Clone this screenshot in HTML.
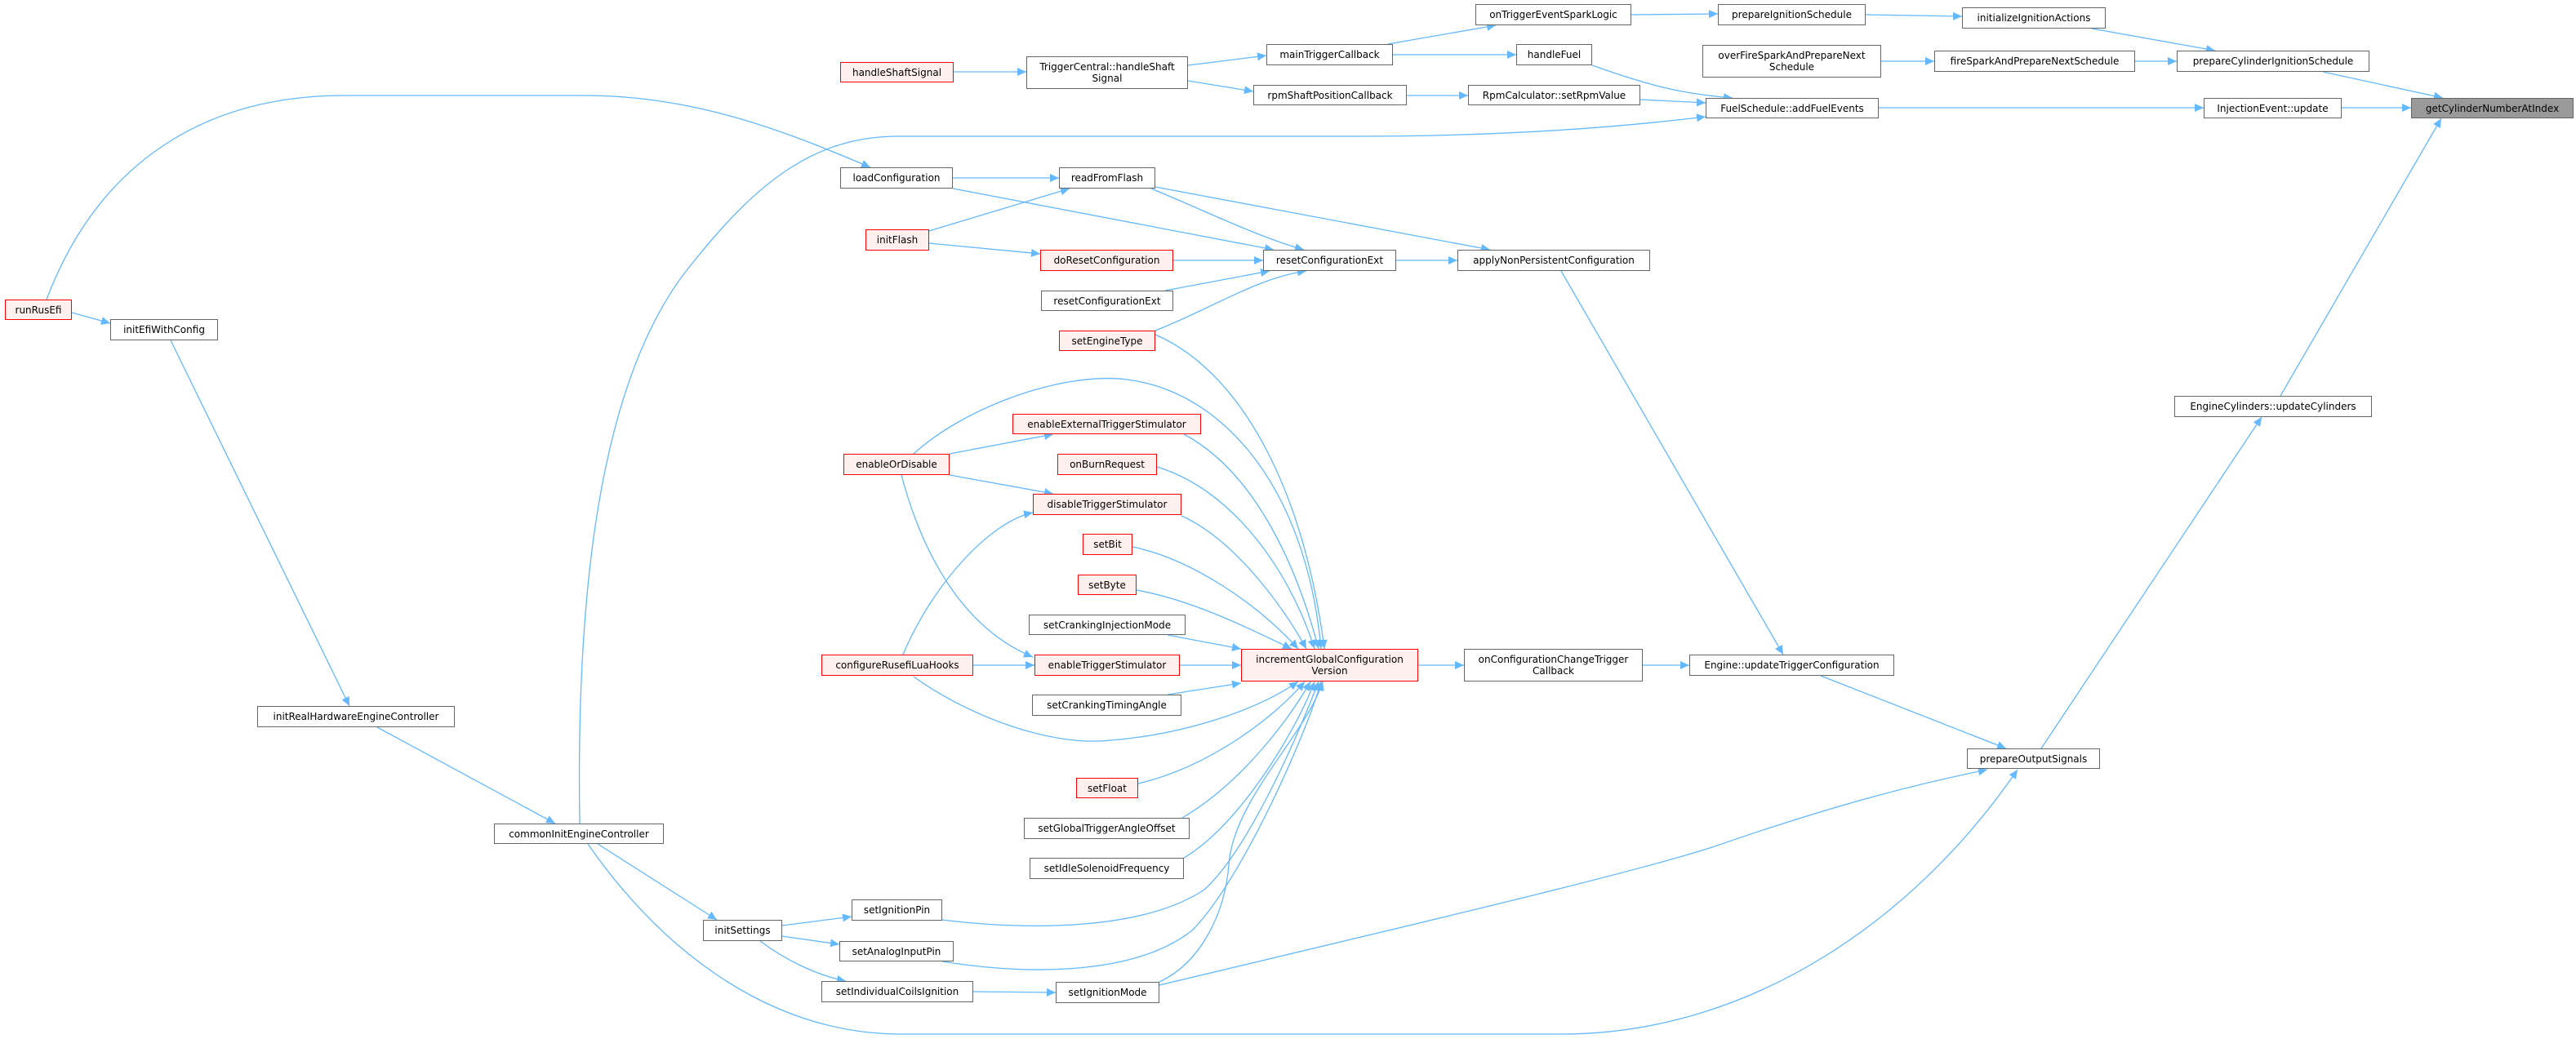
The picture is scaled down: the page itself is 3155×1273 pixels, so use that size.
<!DOCTYPE html>
<html><head><meta charset="utf-8">
<style>
html,body{margin:0;padding:0;background:#fff;}
body{width:3155px;height:1273px;position:relative;overflow:hidden;font-family:"DejaVu Sans","Liberation Sans",sans-serif;font-size:12px;color:#000;}
.n{position:absolute;box-sizing:border-box;border:1px solid #666;background:#fff;display:flex;align-items:center;justify-content:center;text-align:center;line-height:14px;white-space:nowrap;}
.r{border-color:#f00;background:#fff0f0;}
.g{background:#999;border-color:#666;}
svg{position:absolute;left:0;top:0;}
</style></head><body>
<svg width="3155" height="1273" viewBox="0 0 3155 1273">
<defs><marker id="a" markerUnits="userSpaceOnUse" markerWidth="12" markerHeight="10" refX="11" refY="5" orient="auto"><path d="M0,0 L11,5 L0,10 z" fill="#63b8ff"/></marker></defs>
<g fill="none" stroke="#63b8ff" stroke-width="1.3" marker-end="url(#a)">
<path d="M1168,88 L1257,88"/>
<path d="M1455,80 L1551,68"/>
<path d="M1455,99 L1535,112"/>
<path d="M1700,54 L1832,31"/>
<path d="M1706,67 L1857,67"/>
<path d="M1723,117 L1798,117"/>
<path d="M1998,18 L2104,17"/>
<path d="M2285,18 L2403,20"/>
<path d="M2562,35 L2713,62"/>
<path d="M2304,75 L2369,75"/>
<path d="M2615,75 L2666,75"/>
<path d="M2845,88 L2992,120"/>
<path d="M1950,80 C2020,105 2060,115 2122,120"/>
<path d="M2009,122 L2089,126"/>
<path d="M710,1009 C705,700 740,450 850,320 C930,220 1000,167 1100,167 L1660,167 C1800,167 1950,160 2089,143"/>
<path d="M2301,132 L2699,132"/>
<path d="M2868,132 L2953,132"/>
<path d="M2793,485 L2990,145"/>
<path d="M2500,917 L2770,511"/>
<path d="M2230,828 L2457,917"/>
<path d="M1912,332 L2184,802"/>
<path d="M2012,815 L2069,815"/>
<path d="M1737,815 L1793,815"/>
<path d="M1420,1207 C1700,1140 2000,1070 2100,1037 C2250,985 2350,960 2434,943"/>
<path d="M720,1034 C800,1150 930,1265 1100,1267 L1912,1267 C2150,1267 2350,1120 2471,943"/>
<path d="M1410,231 C1480,260 1540,290 1597,306"/>
<path d="M1415,229 L1825,306"/>
<path d="M1167,218 L1297,218"/>
<path d="M1167,231 L1560,306"/>
<path d="M1138,283 L1310,231"/>
<path d="M1138,298 L1274,311"/>
<path d="M1437,319 L1547,319"/>
<path d="M1427,356 L1555,332"/>
<path d="M1415,405 C1480,380 1540,340 1600,332"/>
<path d="M1710,319 L1785,319"/>
<path d="M88,383 L135,396"/>
<path d="M57,367 C120,200 250,117 421,117 L716,117 C850,117 960,160 1066,205"/>
<path d="M209,417 L428,865"/>
<path d="M462,891 L680,1009"/>
<path d="M732,1034 L878,1127"/>
<path d="M958,1134 L1043,1123"/>
<path d="M958,1147 L1028,1157"/>
<path d="M931,1153 C960,1175 1000,1195 1036,1202"/>
<path d="M1192,1215 L1293,1216"/>
<path d="M1163,556 L1290,532"/>
<path d="M1163,582 L1290,605"/>
<path d="M1104,582 C1130,680 1180,770 1265,805"/>
<path d="M1119,556 C1180,500 1300,455 1380,465 C1500,480 1600,600 1618,795"/>
<path d="M1106,802 C1140,720 1210,640 1265,628"/>
<path d="M1192,815 L1267,815"/>
<path d="M1119,829 C1190,880 1290,915 1360,907 C1450,900 1540,870 1590,835"/>
<path d="M1415,410 C1530,460 1600,620 1622,795"/>
<path d="M1450,532 C1540,580 1590,700 1615,795"/>
<path d="M1417,572 C1510,600 1580,700 1610,795"/>
<path d="M1447,632 C1510,660 1570,740 1600,795"/>
<path d="M1387,670 C1460,685 1540,740 1590,795"/>
<path d="M1392,723 C1460,735 1530,770 1582,795"/>
<path d="M1430,778 L1520,795"/>
<path d="M1445,815 L1520,815"/>
<path d="M1430,851 L1520,837"/>
<path d="M1394,960 C1480,940 1560,880 1598,835"/>
<path d="M1448,1002 C1520,960 1580,880 1605,835"/>
<path d="M1450,1051 C1520,1010 1590,890 1610,835"/>
<path d="M1154,1127 C1260,1140 1400,1140 1475,1090 C1530,1040 1590,900 1615,835"/>
<path d="M1154,1178 C1260,1195 1390,1195 1460,1140 C1520,1080 1600,900 1618,835"/>
<path d="M1420,1203 C1470,1180 1500,1120 1505,1060 C1510,980 1600,900 1620,835"/>
</g>
</svg>
<div class="n r" style="left:1029px;top:76px;width:139px;height:25px">handleShaftSignal</div>
<div class="n" style="left:1257px;top:69px;width:198px;height:40px">TriggerCentral::handleShaft<br>Signal</div>
<div class="n" style="left:1551px;top:54px;width:155px;height:26px">mainTriggerCallback</div>
<div class="n" style="left:1807px;top:5px;width:191px;height:26px">onTriggerEventSparkLogic</div>
<div class="n" style="left:1857px;top:54px;width:93px;height:26px">handleFuel</div>
<div class="n" style="left:1535px;top:104px;width:188px;height:25px">rpmShaftPositionCallback</div>
<div class="n" style="left:1798px;top:104px;width:211px;height:25px">RpmCalculator::setRpmValue</div>
<div class="n" style="left:1029px;top:205px;width:138px;height:26px">loadConfiguration</div>
<div class="n" style="left:1297px;top:205px;width:118px;height:26px">readFromFlash</div>
<div class="n r" style="left:1060px;top:281px;width:78px;height:26px">initFlash</div>
<div class="n r" style="left:1274px;top:306px;width:163px;height:26px">doResetConfiguration</div>
<div class="n" style="left:1547px;top:306px;width:163px;height:26px">resetConfigurationExt</div>
<div class="n" style="left:1785px;top:306px;width:236px;height:26px">applyNonPersistentConfiguration</div>
<div class="n" style="left:1275px;top:356px;width:162px;height:25px">resetConfigurationExt</div>
<div class="n r" style="left:1297px;top:405px;width:118px;height:25px">setEngineType</div>
<div class="n" style="left:2104px;top:5px;width:181px;height:26px">prepareIgnitionSchedule</div>
<div class="n" style="left:2403px;top:9px;width:176px;height:26px">initializeIgnitionActions</div>
<div class="n" style="left:2085px;top:55px;width:219px;height:40px">overFireSparkAndPrepareNext<br>Schedule</div>
<div class="n" style="left:2369px;top:62px;width:246px;height:26px">fireSparkAndPrepareNextSchedule</div>
<div class="n" style="left:2666px;top:62px;width:236px;height:26px">prepareCylinderIgnitionSchedule</div>
<div class="n" style="left:2089px;top:120px;width:212px;height:25px">FuelSchedule::addFuelEvents</div>
<div class="n" style="left:2699px;top:120px;width:169px;height:25px">InjectionEvent::update</div>
<div class="n g" style="left:2953px;top:120px;width:199px;height:25px">getCylinderNumberAtIndex</div>
<div class="n" style="left:2663px;top:485px;width:242px;height:26px">EngineCylinders::updateCylinders</div>
<div class="n r" style="left:6px;top:367px;width:82px;height:25px">runRusEfi</div>
<div class="n" style="left:135px;top:391px;width:132px;height:26px">initEfiWithConfig</div>
<div class="n" style="left:315px;top:865px;width:242px;height:26px">initRealHardwareEngineController</div>
<div class="n" style="left:605px;top:1009px;width:208px;height:25px">commonInitEngineController</div>
<div class="n" style="left:861px;top:1127px;width:97px;height:26px">initSettings</div>
<div class="n r" style="left:1240px;top:507px;width:231px;height:25px">enableExternalTriggerStimulator</div>
<div class="n r" style="left:1033px;top:556px;width:130px;height:26px">enableOrDisable</div>
<div class="n r" style="left:1295px;top:556px;width:122px;height:26px">onBurnRequest</div>
<div class="n r" style="left:1265px;top:605px;width:182px;height:26px">disableTriggerStimulator</div>
<div class="n r" style="left:1326px;top:654px;width:61px;height:26px">setBit</div>
<div class="n r" style="left:1320px;top:704px;width:72px;height:25px">setByte</div>
<div class="n" style="left:1260px;top:753px;width:192px;height:25px">setCrankingInjectionMode</div>
<div class="n r" style="left:1006px;top:802px;width:186px;height:26px">configureRusefiLuaHooks</div>
<div class="n r" style="left:1267px;top:802px;width:178px;height:26px">enableTriggerStimulator</div>
<div class="n r" style="left:1520px;top:795px;width:217px;height:40px">incrementGlobalConfiguration<br>Version</div>
<div class="n" style="left:1793px;top:795px;width:219px;height:40px">onConfigurationChangeTrigger<br>Callback</div>
<div class="n" style="left:2069px;top:802px;width:251px;height:26px">Engine::updateTriggerConfiguration</div>
<div class="n" style="left:2409px;top:917px;width:163px;height:25px">prepareOutputSignals</div>
<div class="n" style="left:1264px;top:851px;width:183px;height:26px">setCrankingTimingAngle</div>
<div class="n r" style="left:1318px;top:953px;width:76px;height:25px">setFloat</div>
<div class="n" style="left:1254px;top:1002px;width:203px;height:26px">setGlobalTriggerAngleOffset</div>
<div class="n" style="left:1261px;top:1051px;width:189px;height:26px">setIdleSolenoidFrequency</div>
<div class="n" style="left:1043px;top:1102px;width:111px;height:26px">setIgnitionPin</div>
<div class="n" style="left:1028px;top:1153px;width:140px;height:25px">setAnalogInputPin</div>
<div class="n" style="left:1006px;top:1202px;width:186px;height:26px">setIndividualCoilsIgnition</div>
<div class="n" style="left:1293px;top:1203px;width:127px;height:26px">setIgnitionMode</div>
</body></html>
